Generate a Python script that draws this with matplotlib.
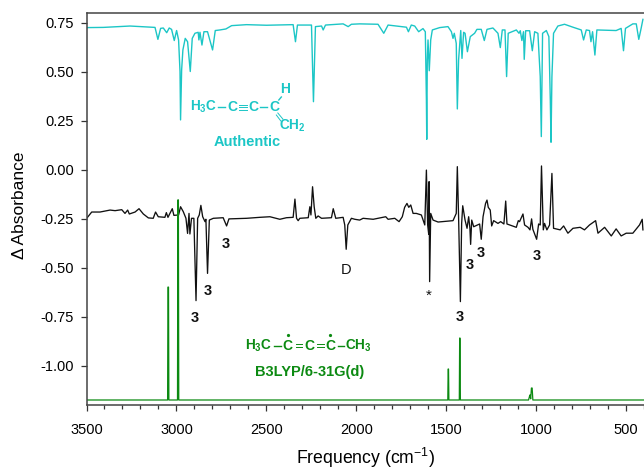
# Difference spectrum with authentic sample and computed stick spectrum

import matplotlib
matplotlib.use('Agg')
import matplotlib.pyplot as plt

plt.rcParams['font.family'] = ['Liberation Sans', 'DejaVu Sans']
plt.rcParams['mathtext.fontset'] = 'custom'
plt.rcParams['mathtext.rm'] = 'Liberation Sans'
plt.rcParams['mathtext.bf'] = 'Liberation Sans:bold'

authentic_freq = [3499, 3406, 3258, 3119, 3103, 3088, 3073, 3054, 3040, 3027, 3012, 2999, 2988, 2980, 2977, 2971,
                  2964, 2951, 2938, 2923, 2912, 2897, 2879, 2875, 2869, 2858, 2847, 2827, 2799, 2784, 2758, 2725,
                  2693, 2610, 2499, 2351, 2338, 2327, 2249, 2238, 2227, 2193, 2184, 2171, 2073, 2045, 2027, 1981,
                  1879, 1847, 1823, 1749, 1721, 1710, 1694, 1675, 1653, 1629, 1616, 1610, 1608, 1605, 1601, 1594,
                  1586, 1577, 1536, 1490, 1471, 1462, 1455, 1444, 1438, 1431, 1419, 1412, 1403, 1395, 1382, 1366,
                  1342, 1329, 1305, 1288, 1273, 1240, 1212, 1199, 1188, 1173, 1164, 1155, 1110, 1095, 1088, 1079,
                  1070, 1066, 1058, 1036, 1021, 1008, 990, 977, 971, 964, 943, 929, 921, 917, 912, 903,
                  879, 842, 795, 749, 736, 721, 703, 695, 686, 673, 662, 555, 527, 514, 503, 481,
                  462, 443, 429, 416, 406]
authentic_abs = [0.724, 0.725, 0.732, 0.725, 0.664, 0.72, 0.722, 0.698, 0.722, 0.715, 0.658, 0.709, 0.661, 0.5, 0.253, 0.508,
                 0.61, 0.669, 0.652, 0.5, 0.669, 0.695, 0.70, 0.661, 0.70, 0.635, 0.703, 0.703, 0.61, 0.709, 0.712, 0.717,
                 0.734, 0.739, 0.736, 0.739, 0.652, 0.737, 0.737, 0.346, 0.729, 0.732, 0.712, 0.737, 0.743, 0.729, 0.741, 0.743,
                 0.741, 0.695, 0.737, 0.729, 0.726, 0.703, 0.737, 0.732, 0.703, 0.719, 0.703, 0.355, 0.154, 0.559, 0.661, 0.504,
                 0.661, 0.712, 0.724, 0.729, 0.703, 0.669, 0.695, 0.644, 0.309, 0.559, 0.709, 0.567, 0.70, 0.695, 0.601, 0.678,
                 0.695, 0.715, 0.715, 0.658, 0.715, 0.722, 0.695, 0.622, 0.712, 0.712, 0.474, 0.695, 0.712, 0.695, 0.708, 0.658,
                 0.703, 0.562, 0.708, 0.708, 0.606, 0.703, 0.695, 0.474, 0.168, 0.695, 0.709, 0.678, 0.355, 0.139, 0.474, 0.695,
                 0.732, 0.741, 0.726, 0.712, 0.661, 0.712, 0.709, 0.652, 0.703, 0.584, 0.712, 0.709, 0.72, 0.606, 0.72, 0.732,
                 0.743, 0.743, 0.664, 0.72, 0.766]

matrix_freq = [3499, 3471, 3425, 3369, 3341, 3304, 3286, 3271, 3262, 3230, 3208, 3184, 3156, 3129, 3116, 3101,
               3064, 3056, 3047, 3023, 3014, 2988, 2977, 2962, 2947, 2938, 2930, 2925, 2916, 2903, 2891, 2882,
               2873, 2864, 2854, 2841, 2836, 2827, 2817, 2795, 2740, 2721, 2708, 2610, 2536, 2480, 2425, 2388,
               2351, 2341, 2332, 2323, 2314, 2267, 2258, 2252, 2243, 2234, 2225, 2212, 2193, 2138, 2128, 2114,
               2073, 2064, 2056, 2047, 2027, 2008, 1981, 1962, 1906, 1836, 1823, 1786, 1762, 1744, 1731, 1718,
               1708, 1697, 1684, 1666, 1638, 1619, 1610, 1603, 1597, 1595, 1592, 1586, 1573, 1545, 1462, 1444,
               1438, 1431, 1421, 1414, 1408, 1395, 1384, 1375, 1368, 1364, 1358, 1347, 1314, 1305, 1295, 1281,
               1273, 1266, 1255, 1247, 1236, 1212, 1197, 1179, 1169, 1162, 1110, 1099, 1092, 1073, 1064, 1045,
               1034, 1025, 1018, 997, 986, 977, 970, 960, 953, 940, 925, 912, 903, 866, 847, 823,
               795, 755, 731, 703, 669, 656, 619, 582, 555, 527, 499, 462, 425, 410, 406]
matrix_abs = [-0.249, -0.217, -0.217, -0.207, -0.21, -0.205, -0.224, -0.207, -0.227, -0.217, -0.20, -0.227, -0.247, -0.249, -0.217, -0.241,
              -0.244, -0.22, -0.244, -0.20, -0.234, -0.232, -0.19, -0.215, -0.249, -0.326, -0.224, -0.329, -0.249, -0.249, -0.669, -0.249,
              -0.232, -0.183, -0.241, -0.266, -0.254, -0.53, -0.258, -0.249, -0.246, -0.288, -0.252, -0.249, -0.244, -0.241, -0.254, -0.246,
              -0.244, -0.151, -0.249, -0.261, -0.249, -0.246, -0.19, -0.232, -0.088, -0.19, -0.249, -0.237, -0.249, -0.246, -0.20, -0.249,
              -0.244, -0.283, -0.407, -0.283, -0.249, -0.254, -0.258, -0.249, -0.254, -0.241, -0.254, -0.249, -0.266, -0.241, -0.193, -0.173,
              -0.193, -0.181, -0.224, -0.224, -0.232, -0.283, -0.003, -0.283, -0.331, -0.062, -0.572, -0.224, -0.258, -0.268, -0.261, -0.224,
              0.0145, -0.241, -0.674, -0.275, -0.185, -0.258, -0.30, -0.241, -0.30, -0.382, -0.258, -0.292, -0.278, -0.356, -0.241, -0.173,
              -0.156, -0.193, -0.207, -0.288, -0.261, -0.275, -0.266, -0.278, -0.161, -0.278, -0.295, -0.261, -0.266, -0.227, -0.283, -0.295,
              -0.308, -0.252, -0.305, -0.356, -0.278, -0.283, 0.018, -0.308, -0.275, -0.308, -0.283, -0.020, -0.30, -0.308, -0.288, -0.325,
              -0.30, -0.295, -0.308, -0.283, -0.261, -0.325, -0.295, -0.339, -0.303, -0.339, -0.325, -0.325, -0.283, -0.254, -0.308]

calc_freq = [3500, 3049, 3047, 3044, 3042, 2994, 2992, 2989, 2987, 1491, 1489, 1487, 1485, 1427, 1425, 1423,
             1421, 1042, 1036, 1034, 1030, 1026, 1022, 1018, 400]
calc_abs = [-1.176, -1.176, -0.60, -0.60, -1.176, -1.176, -0.155, -0.155, -1.176, -1.176, -1.018, -1.018, -1.176, -1.176, -0.86, -0.86,
            -1.176, -1.176, -1.155, -1.15, -1.17, -1.115, -1.115, -1.176, -1.176]

x_ticks = [3500, 3000, 2500, 2000, 1500, 1000, 500]
x_minor = [3400, 3300, 3200, 3100, 2900, 2800, 2700, 2600, 2400, 2300, 2200, 2100, 1900, 1800, 1700, 1600,
           1400, 1300, 1200, 1100, 900, 800, 700, 600, 400]
y_ticks = [0.75, 0.50, 0.25, 0.00, -0.25, -0.50, -0.75, -1.00]
y_labels = ['0.75', '0.50', '0.25', '0.00', '-0.25', '-0.50', '-0.75', '-1.00']

# band assignments, (pixel x, pixel y, label)
band_labels = [(226, 244, '3'), (208, 291, '3'), (195, 318, '3'), (470, 265, '3'),
               (481, 253, '3'), (537, 256, '3'), (460, 317, '3')]

CYAN = '#1cc6c6'
GREEN = '#0c8a12'


def fx(px):
    return 3500 - (px - 86.5) / 0.18


def fy(py):
    return (169.5 - py) / 196.0


fig = plt.figure(figsize=(6.44, 4.70), dpi=100)
ax = fig.add_axes([86.5 / 644, 1 - 404.7 / 470, (644 - 86.5) / 644, (404.7 - 12.7) / 470])

ax.plot(authentic_freq, authentic_abs, color=CYAN, lw=1.0)
ax.plot(matrix_freq, matrix_abs, color='#111111', lw=0.95)
ax.plot(calc_freq, calc_abs, color=GREEN, lw=0.9)

ax.set_xlim(3500, 400)
ax.set_ylim(-1.2, 0.8)
ax.set_xticks(x_ticks)
ax.set_xticks(x_minor, minor=True)
ax.set_yticks(y_ticks)
ax.set_yticklabels(y_labels)
ax.tick_params(axis='both', which='major', labelsize=10.5, length=4, width=0.9, color='#333333', pad=5)
ax.tick_params(axis='x', which='major', pad=9.5)
ax.tick_params(axis='x', which='minor', length=2.8, width=0.9, color='#333333')
for s in ax.spines.values():
    s.set_color('#444444')
    s.set_linewidth(1.1)
ax.spines['right'].set_visible(False)

ax.set_xlabel('Frequency (cm$^{-1}$)', fontsize=12.7, labelpad=6)
ax.set_ylabel('\u0394 Absorbance', fontsize=12.5, labelpad=10, y=0.509)

for px, py, s in band_labels:
    ax.text(fx(px), fy(py), s, fontsize=10.5, fontweight='bold', color='#111111', ha='center', va='center')
ax.text(fx(346), fy(270), 'D', fontsize=10.5, color='#111111', ha='center', va='center')
ax.text(fx(429), fy(296), '*', fontsize=11, color='#111111', ha='center', va='center')

# authentic sample structure
ax.text(fx(190.5), fy(107), r'$\mathbf{H_3C}$', fontsize=9.8, color=CYAN, ha='left', va='center')
for px in [232.5, 253.5, 274.5]:
    ax.text(fx(px), fy(107), 'C', fontsize=10, fontweight='bold', color=CYAN, ha='center', va='center')
ax.text(fx(285), fy(89), 'H', fontsize=10, fontweight='bold', color=CYAN, ha='center', va='center')
ax.text(fx(279.5), fy(126), r'$\mathbf{CH_2}$', fontsize=9.8, color=CYAN, ha='left', va='center')
ax.text(fx(247.5), fy(142.5), 'Authentic', fontsize=10.5, fontweight='bold', color=CYAN, ha='center', va='center')
ax.plot([fx(218.5), fx(225.5)], [fy(107), fy(107)], color=CYAN, lw=1.0)
ax.plot([fx(260.5), fx(267.5)], [fy(107), fy(107)], color=CYAN, lw=1.0)
for py in [104.5, 107, 109.5]:
    ax.plot([fx(239.5), fx(247.5)], [fy(py), fy(py)], color=CYAN, lw=0.7)
ax.plot([fx(279), fx(281.5)], [fy(100), fy(97)], color=CYAN, lw=1.0)
ax.plot([fx(278), fx(283)], [fy(113), fy(119)], color=CYAN, lw=0.7)
ax.plot([fx(276.5), fx(281)], [fy(115), fy(121)], color=CYAN, lw=0.7)

# computed radical structure
ax.text(fx(245), fy(345.5), r'$\mathbf{H_3C}$', fontsize=9.8, color=GREEN, ha='left', va='center')
for px in [288, 309.5, 330.5]:
    ax.text(fx(px), fy(345.5), 'C', fontsize=10, fontweight='bold', color=GREEN, ha='center', va='center')
ax.text(fx(345.5), fy(345.5), r'$\mathbf{CH_3}$', fontsize=9.8, color=GREEN, ha='left', va='center')
ax.text(fx(310), fy(372), 'B3LYP/6-31G(d)', fontsize=10.5, fontweight='bold', color=GREEN, ha='center', va='center')
ax.plot([fx(274), fx(281)], [fy(345.5), fy(345.5)], color=GREEN, lw=1.0)
ax.plot([fx(338), fx(344)], [fy(345.5), fy(345.5)], color=GREEN, lw=1.0)
for x0, x1 in [(296, 302), (317, 324)]:
    ax.plot([fx(x0), fx(x1)], [fy(344), fy(344)], color=GREEN, lw=0.7)
    ax.plot([fx(x0), fx(x1)], [fy(347), fy(347)], color=GREEN, lw=0.7)
ax.plot([fx(288), fx(330.5)], [fy(335), fy(335)], ls='none', marker='o', ms=1.3, color=GREEN)

plt.savefig('out.png', dpi=100)
